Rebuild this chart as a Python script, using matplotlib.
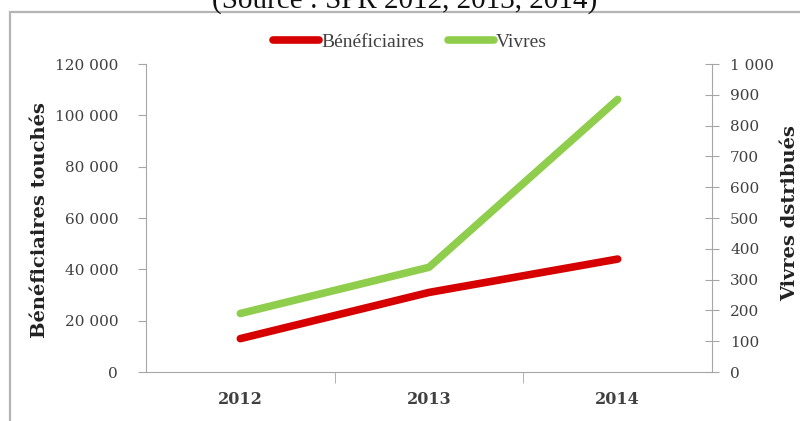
import matplotlib
matplotlib.use("Agg")
import matplotlib.pyplot as plt
from matplotlib.ticker import FuncFormatter, MultipleLocator
from matplotlib.patches import Rectangle

# données
annees = ["2012", "2013", "2014"]
beneficiaires = [13000, 31000, 44000]
vivres = [190, 340, 885]

ROUGE = "#d60000"
VERT = "#8fce4c"
GRIS = "#404040"
AXE = "#a6a6a6"

def milliers(v, pos):
    return f"{v:,.0f}".replace(",", " ")

fig = plt.figure(figsize=(8, 4.21), dpi=100)

# cadre du graphique
fig.patches.append(Rectangle((10/800, -0.1), 1.0, (421-12)/421 + 0.1, transform=fig.transFigure,
                             fill=False, edgecolor="#b5b5b5", lw=1.6))

fig.text(405/800, (421-8)/421, "(Source : SPR 2012, 2013, 2014)", ha="center", va="baseline",
         fontsize=21, family="Liberation Serif", color="#111111")

ax = fig.add_axes([146/800, 49/421, 566/800, 308/421])
ax2 = ax.twinx()

x = range(len(annees))
l1, = ax.plot(x, beneficiaires, color=ROUGE, lw=5.5, solid_capstyle="round", label="Bénéficiaires")
l2, = ax2.plot(x, vivres, color=VERT, lw=5.5, solid_capstyle="round", label="Vivres")

ax.set_xlim(-0.5, 2.5)
ax.set_ylim(0, 120000)
ax2.set_ylim(0, 1000)
ax.yaxis.set_major_locator(MultipleLocator(20000))
ax2.yaxis.set_major_locator(MultipleLocator(100))
ax.yaxis.set_major_formatter(FuncFormatter(milliers))
ax2.yaxis.set_major_formatter(FuncFormatter(milliers))

ax.set_xticks(list(x))
ax.set_xticklabels(annees, fontsize=11.5, fontweight="bold", family="DejaVu Serif", color=GRIS)
ax.set_xticks([0.5, 1.5], minor=True)
ax.tick_params(axis="x", which="major", length=0, pad=14)
ax.tick_params(axis="x", which="minor", length=8, color=AXE, direction="out")

ax.tick_params(axis="y", length=6, color=AXE, pad=14, labelsize=11, labelcolor=GRIS)
ax2.tick_params(axis="y", length=10, direction="inout", color=AXE, pad=8, labelsize=11, labelcolor=GRIS)
for lab in ax.get_yticklabels() + ax2.get_yticklabels():
    lab.set_family("DejaVu Serif")

for a in (ax, ax2):
    a.spines["top"].set_visible(False)
    for s in ("left", "right", "bottom"):
        a.spines[s].set_color(AXE)
ax2.spines["left"].set_visible(False)
ax2.spines["bottom"].set_visible(False)
ax.spines["right"].set_visible(False)

fig.text(40/800, (421-220)/421, "Bénéficiaires touchés", rotation=90, ha="center", va="center",
         fontsize=14, fontweight="bold", family="DejaVu Serif", color="#222222")
fig.text(790/800, (421-213)/421, "Vivres dstribués", rotation=90, ha="center", va="center",
         fontsize=14, fontweight="bold", family="DejaVu Serif", color="#222222")

fig.legend([l1, l2], ["Bénéficiaires", "Vivres"], loc="center", bbox_to_anchor=(410/800, (421-42)/421),
           ncol=2, frameon=False, handlelength=2.4, handletextpad=0.1, columnspacing=1.2,
           prop={"family": "Liberation Serif", "size": 14}, labelcolor=GRIS)

fig.savefig("out.png", dpi=100)
